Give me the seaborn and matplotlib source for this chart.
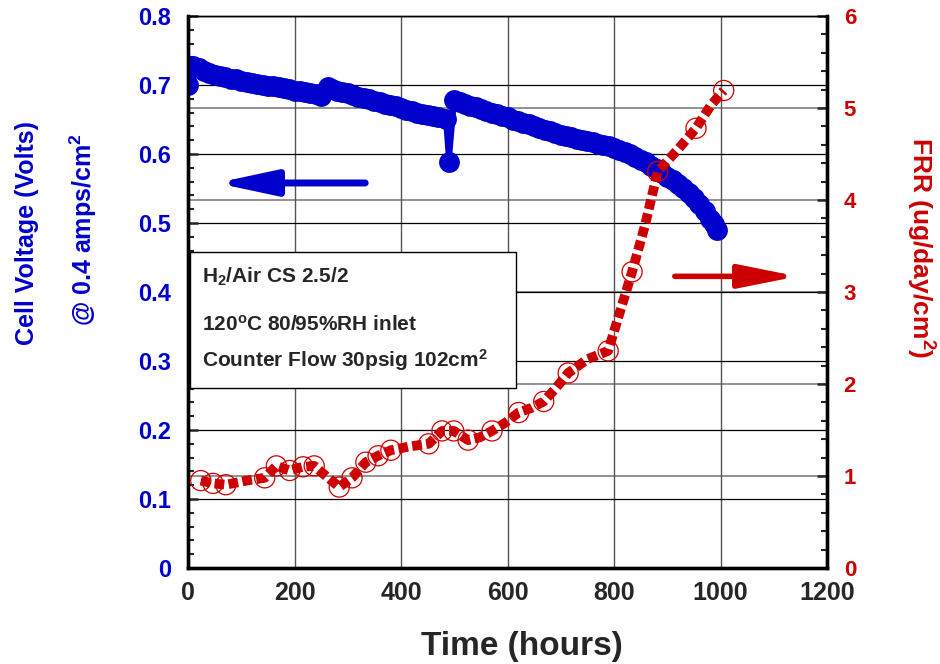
import numpy as np
import matplotlib
matplotlib.use("Agg")
import matplotlib.pyplot as plt
from matplotlib.patches import Rectangle
from matplotlib.ticker import MultipleLocator
import seaborn as sns

# cell voltage (left axis)
volt_hours = [0, 10, 20, 30, 40, 50, 60, 70, 80, 90, 100, 110, 120, 130, 140, 150,
              160, 170, 180, 190, 200, 210, 220, 230, 240, 250, 262, 270, 280, 290,
              300, 310, 320, 330, 340, 350, 360, 370, 380, 390, 400, 410, 420, 430,
              440, 450, 460, 470, 484, 490, 500, 510, 520, 530, 540, 550, 560, 570,
              580, 590, 600, 610, 620, 630, 640, 650, 660, 670, 680, 690, 700, 710,
              720, 730, 740, 750, 760, 770, 780, 790, 800, 810, 820, 830, 840, 850,
              860, 870, 880, 890, 900, 910, 920, 930, 940, 950, 960, 970, 980, 987,
              994]
volts = [0.700, 0.727, 0.724, 0.720, 0.717, 0.715, 0.713, 0.711, 0.709, 0.708, 0.706,
         0.705, 0.703, 0.702, 0.700, 0.699, 0.698, 0.697, 0.695, 0.694, 0.692, 0.691,
         0.690, 0.688, 0.687, 0.684, 0.697, 0.694, 0.692, 0.690, 0.688, 0.685, 0.683,
         0.681, 0.679, 0.677, 0.675, 0.673, 0.671, 0.669, 0.667, 0.664, 0.662, 0.660,
         0.658, 0.657, 0.655, 0.653, 0.651, 0.589, 0.678, 0.675, 0.672, 0.670, 0.668,
         0.665, 0.663, 0.660, 0.658, 0.655, 0.653, 0.650, 0.648, 0.645, 0.643, 0.640,
         0.638, 0.635, 0.633, 0.630, 0.628, 0.626, 0.624, 0.622, 0.620, 0.619, 0.617,
         0.615, 0.613, 0.611, 0.609, 0.606, 0.603, 0.600, 0.596, 0.592, 0.588, 0.583,
         0.578, 0.573, 0.567, 0.562, 0.556, 0.550, 0.543, 0.536, 0.528, 0.518, 0.506,
         0.498, 0.490]

# fluoride release rate (right axis)
frr_hours = [24, 47, 71, 110, 144, 166, 191, 216, 237, 253, 284, 308, 334, 357, 381,
             415, 452, 477, 499, 526, 548, 571, 596, 621, 645, 668, 690, 714, 750,
             789, 834, 858, 882, 920, 954, 982, 1006]
frr = [0.95, 0.92, 0.905, 0.95, 0.98, 1.11, 1.06, 1.10, 1.11, 1.03, 0.88, 0.98, 1.15,
       1.22, 1.28, 1.32, 1.35, 1.49, 1.49, 1.39, 1.42, 1.49, 1.58, 1.69, 1.74, 1.81,
       1.95, 2.12, 2.27, 2.36, 3.22, 3.72, 4.31, 4.55, 4.78, 5.03, 5.19]
circled = [1, 1, 1, 0, 1, 1, 1, 1, 1, 0, 1, 1, 1, 1, 1,
           0, 1, 1, 1, 1, 0, 1, 0, 1, 0, 1, 0, 1, 0,
           1, 1, 0, 1, 0, 1, 0, 1]

blue = "#0000CC"
red = "#CC0000"

sns.set_style("white")
plt.rcParams["font.family"] = ["Liberation Sans", "DejaVu Sans"]
plt.rcParams["font.weight"] = "bold"
plt.rcParams["mathtext.fontset"] = "custom"
plt.rcParams["mathtext.rm"] = "Liberation Sans:bold"
plt.rcParams["mathtext.it"] = "Liberation Sans:bold"
plt.rcParams["mathtext.bf"] = "Liberation Sans:bold"
plt.rcParams["mathtext.default"] = "rm"

fig = plt.figure(figsize=(9.4, 6.64), dpi=100)
ax = fig.add_axes([188 / 940, 1 - 568 / 664, 639 / 940, 552 / 664])
ax2 = ax.twinx()

# grids (all drawn on the lower axes so the data sits on top)
ax.set_axisbelow(True)
ax.grid(True, axis="x", color="#555555", lw=1.0)
ax.grid(True, axis="y", color="black", lw=0.9)
for r in range(1, 6):
    ax.axhline(r * 0.8 / 6, color="#808080", lw=1.2, zorder=0.5)

sns.lineplot(x=volt_hours, y=volts, ax=ax, color=blue, linewidth=4, marker="o",
             markersize=15, markeredgewidth=0, sort=False, zorder=3)

mask = np.array(circled, dtype=bool)
sns.lineplot(x=frr_hours, y=frr, ax=ax2, color=red, linewidth=7,
             linestyle=(0, (1.0, 0.45)), dash_capstyle="butt", sort=False, zorder=3)
sns.scatterplot(x=np.array(frr_hours)[mask], y=np.array(frr)[mask], ax=ax2, s=210,
                marker="o", facecolors="none", edgecolor=red, linewidth=0.9, zorder=4)

ax.set_xlim(0, 1200)
ax.set_ylim(0, 0.8)
ax2.set_ylim(0, 6)
ax2.grid(False)

ax.xaxis.set_major_locator(MultipleLocator(200))
ax.xaxis.set_minor_locator(MultipleLocator(50))
ax.yaxis.set_major_locator(MultipleLocator(0.1))
ax.yaxis.set_minor_locator(MultipleLocator(0.02))
ax2.yaxis.set_major_locator(MultipleLocator(1))
ax2.yaxis.set_minor_locator(MultipleLocator(0.2))
ax.yaxis.set_major_formatter(lambda v, p: "0" if abs(v) < 1e-9 else f"{v:.1f}")

ax.tick_params(axis="x", which="major", direction="in", length=6, width=1.5,
               labelsize=18, pad=9, top=False)
ax.tick_params(axis="x", which="minor", direction="in", length=5, width=1.5, top=False)
ax.tick_params(axis="y", which="major", direction="in", length=7, width=1.8,
               labelsize=17, labelcolor=blue, pad=12)
ax.tick_params(axis="y", which="minor", direction="in", length=4, width=1.5)
ax2.tick_params(axis="y", which="major", direction="in", length=7, width=1.8,
                labelsize=16, labelcolor=red, pad=12)
ax2.tick_params(axis="y", which="minor", direction="in", length=4, width=1.5)
for lab in ax.get_xticklabels() + ax.get_yticklabels() + ax2.get_yticklabels():
    lab.set_fontweight("bold")

for a in (ax, ax2):
    for side in ("left", "bottom", "right"):
        a.spines[side].set_linewidth(2.4)
        a.spines[side].set_color("black")
    a.spines["top"].set_linewidth(1.0)
    a.spines["top"].set_color("black")

ax.set_xlabel("")
ax.set_ylabel("")
ax2.set_ylabel("")
fig.text(522 / 940, 1 - 647 / 664, "Time (hours)", ha="center", va="center",
         fontsize=24, fontweight="bold")
fig.text(27 / 940, 1 - 233 / 664, "Cell Voltage (Volts)", rotation=90, ha="center",
         va="center", fontsize=18, fontweight="bold", color=blue)
fig.text(83 / 940, 1 - 230 / 664, "@ 0.4 amps/cm$^2$", rotation=90, ha="center",
         va="center", fontsize=18, fontweight="bold", color=blue)
fig.text(920 / 940, 1 - 248 / 664, "FRR (ug/day/cm$^2$)", rotation=270, ha="center",
         va="center", fontsize=19, fontweight="bold", color=red)

# condition box
ax.add_patch(Rectangle((0.003, 0.326), 0.51, 0.246, transform=ax.transAxes,
                       facecolor="white", edgecolor="black", lw=1.0, zorder=5))
box_lines = ["H$_2$/Air CS 2.5/2", "120$^o$C 80/95%RH inlet",
             "Counter Flow 30psig 102cm$^2$"]
for txt, yy in zip(box_lines, [0.527, 0.440, 0.376]):
    ax.text(0.022, yy, txt, transform=ax.transAxes, fontsize=15, fontweight="bold",
            va="center", ha="left", zorder=6)

# direction arrows
ax.annotate("", xy=(48, 0.558), xytext=(338, 0.558),
            arrowprops=dict(arrowstyle="-|>,head_length=1.4,head_width=0.3",
                            color=blue, lw=5, mutation_scale=25), zorder=6)
ax2.annotate("", xy=(1150, 3.17), xytext=(909, 3.17),
             arrowprops=dict(arrowstyle="-|>,head_length=1.4,head_width=0.28",
                             color=red, lw=4, mutation_scale=25), zorder=6)

fig.savefig("out.png", dpi=100)
